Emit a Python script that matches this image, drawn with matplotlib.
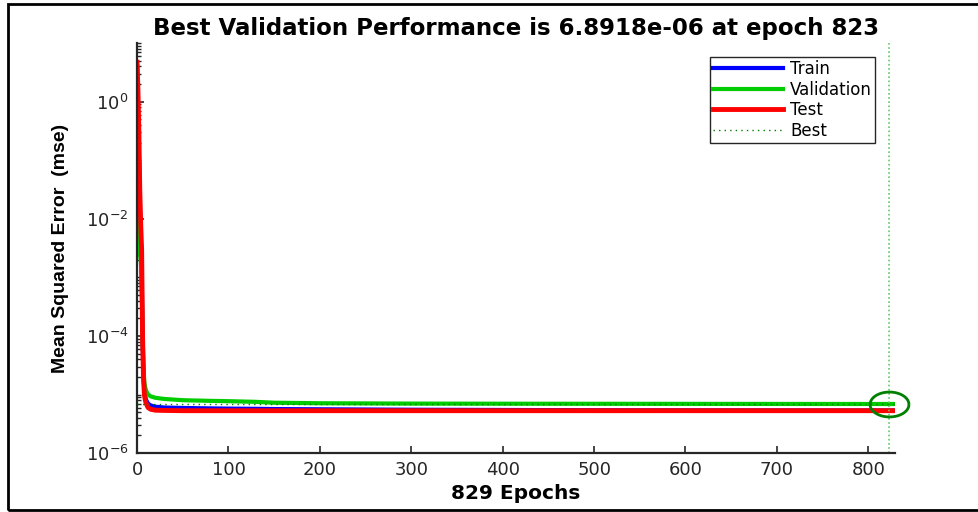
import numpy as np
import matplotlib
matplotlib.use("Agg")
import matplotlib.pyplot as plt
from matplotlib.ticker import LogLocator, NullFormatter, FixedLocator
from matplotlib.patches import Rectangle

plt.rcParams["font.family"] = ["DejaVu Sans"]
plt.rcParams["axes.unicode_minus"] = False

# training record
epochs = [0, 1, 2, 3, 4, 5, 6, 7, 8, 9, 10, 12, 15, 20, 30, 50, 80, 100,
          130, 150, 200, 300, 400, 500, 600, 700, 823, 829]
train = [4.0, 0.5, 0.1, 0.02, 5e-3, 1.5e-3, 1e-4, 2e-5, 1.2e-5, 9e-6, 8e-6,
         7e-6, 6.5e-6, 6.2e-6, 6.0e-6, 5.9e-6, 5.8e-6, 5.75e-6, 5.7e-6,
         5.65e-6, 5.6e-6, 5.5e-6, 5.45e-6, 5.4e-6, 5.38e-6, 5.36e-6,
         5.35e-6, 5.35e-6]
valid = [4.0, 0.01, 3e-3, 2.5e-3, 2e-3, 1e-3, 1e-4, 3e-5, 1.6e-5, 1.3e-5,
         1.15e-5, 1.0e-5, 9.3e-6, 8.8e-6, 8.4e-6, 8.0e-6, 7.8e-6, 7.7e-6,
         7.5e-6, 7.25e-6, 7.1e-6, 7.0e-6, 6.97e-6, 6.95e-6, 6.93e-6, 6.91e-6,
         6.89e-6, 6.89e-6]
test = [4.7, 1.5, 0.3, 0.03, 8e-3, 3e-3, 1e-4, 2e-5, 1e-5, 8e-6, 7e-6,
        6e-6, 5.6e-6, 5.4e-6, 5.35e-6, 5.3e-6, 5.3e-6, 5.3e-6, 5.3e-6,
        5.3e-6, 5.3e-6, 5.3e-6, 5.3e-6, 5.3e-6, 5.3e-6, 5.3e-6, 5.3e-6,
        5.3e-6]
best_epoch = 823
best_perf = 6.8918e-06
n_epochs = 829

xticks = [0, 100, 200, 300, 400, 500, 600, 700, 800]
yticks = [1e-6, 1e-4, 1e-2, 1e0]

fig = plt.figure(figsize=(9.79, 5.12), dpi=100)
ax = fig.add_axes([0.140, 0.115, 0.774, 0.801])

ax.plot(epochs, train, color=(0, 0, 1), lw=3, label="Train")
ax.plot(epochs, valid, color=(0, 0.8, 0), lw=3, label="Validation")
ax.plot(epochs, test, color=(1, 0, 0), lw=3.5, label="Test")
ax.axhline(best_perf, color=(0, 0.5, 0), lw=1, ls=(0, (1, 3)), label="Best")
ax.axvline(best_epoch, color=(0.4, 0.78, 0.4), lw=1.2, ls=(0, (1, 1.5)))

# squashed circle around the best point
t = np.linspace(0, 2 * np.pi, 60)
ell = np.column_stack([np.cos(t), 0.64 * np.sin(t)])
ax.plot([best_epoch], [best_perf], marker=ell, ms=28, mfc="none",
        mec=(0, 0.5, 0), mew=2, clip_on=False)

ax.set_yscale("log")
ax.set_xlim(0, n_epochs)
ax.set_ylim(1e-6, 10)
ax.xaxis.set_major_locator(FixedLocator(xticks))
ax.yaxis.set_major_locator(FixedLocator(yticks))
ax.yaxis.set_minor_locator(LogLocator(base=10, subs=np.arange(1, 10), numticks=50))
ax.yaxis.set_minor_formatter(NullFormatter())

for side in ["top", "right"]:
    ax.spines[side].set_visible(False)
for side in ["left", "bottom"]:
    ax.spines[side].set_color("#262626")
    ax.spines[side].set_linewidth(1.6)
ax.tick_params(which="both", direction="in", colors="#262626",
               labelsize=13, top=False, right=False)
ax.tick_params(which="major", length=5, width=1.2, pad=6)
ax.tick_params(which="minor", length=3, width=1)

ax.set_title(f"Best Validation Performance is {best_perf:.4e} at epoch {best_epoch}",
             fontsize=16.5, fontweight="bold", pad=6)
ax.set_xlabel(f"{n_epochs} Epochs", fontsize=14.5, fontweight="bold", labelpad=3)
ax.set_ylabel("Mean Squared Error  (mse)", fontsize=14, fontweight="bold",
              labelpad=12, family="Liberation Sans")

leg = ax.legend(loc="upper right", bbox_to_anchor=(0.974, 0.966), fontsize=12,
                handlelength=4.2, handletextpad=0.4, labelspacing=0.15,
                borderpad=0.2, borderaxespad=0, fancybox=False, framealpha=1)
leg.get_frame().set_edgecolor("#262626")
leg.get_frame().set_linewidth(1)

# outer frame of the exported figure
fig.patches.append(Rectangle((8 / 979, 2 / 512), 1.2, 506 / 512,
                             transform=fig.transFigure, fill=False,
                             edgecolor="black", lw=2, clip_on=False))

fig.savefig("out.png", dpi=100)
